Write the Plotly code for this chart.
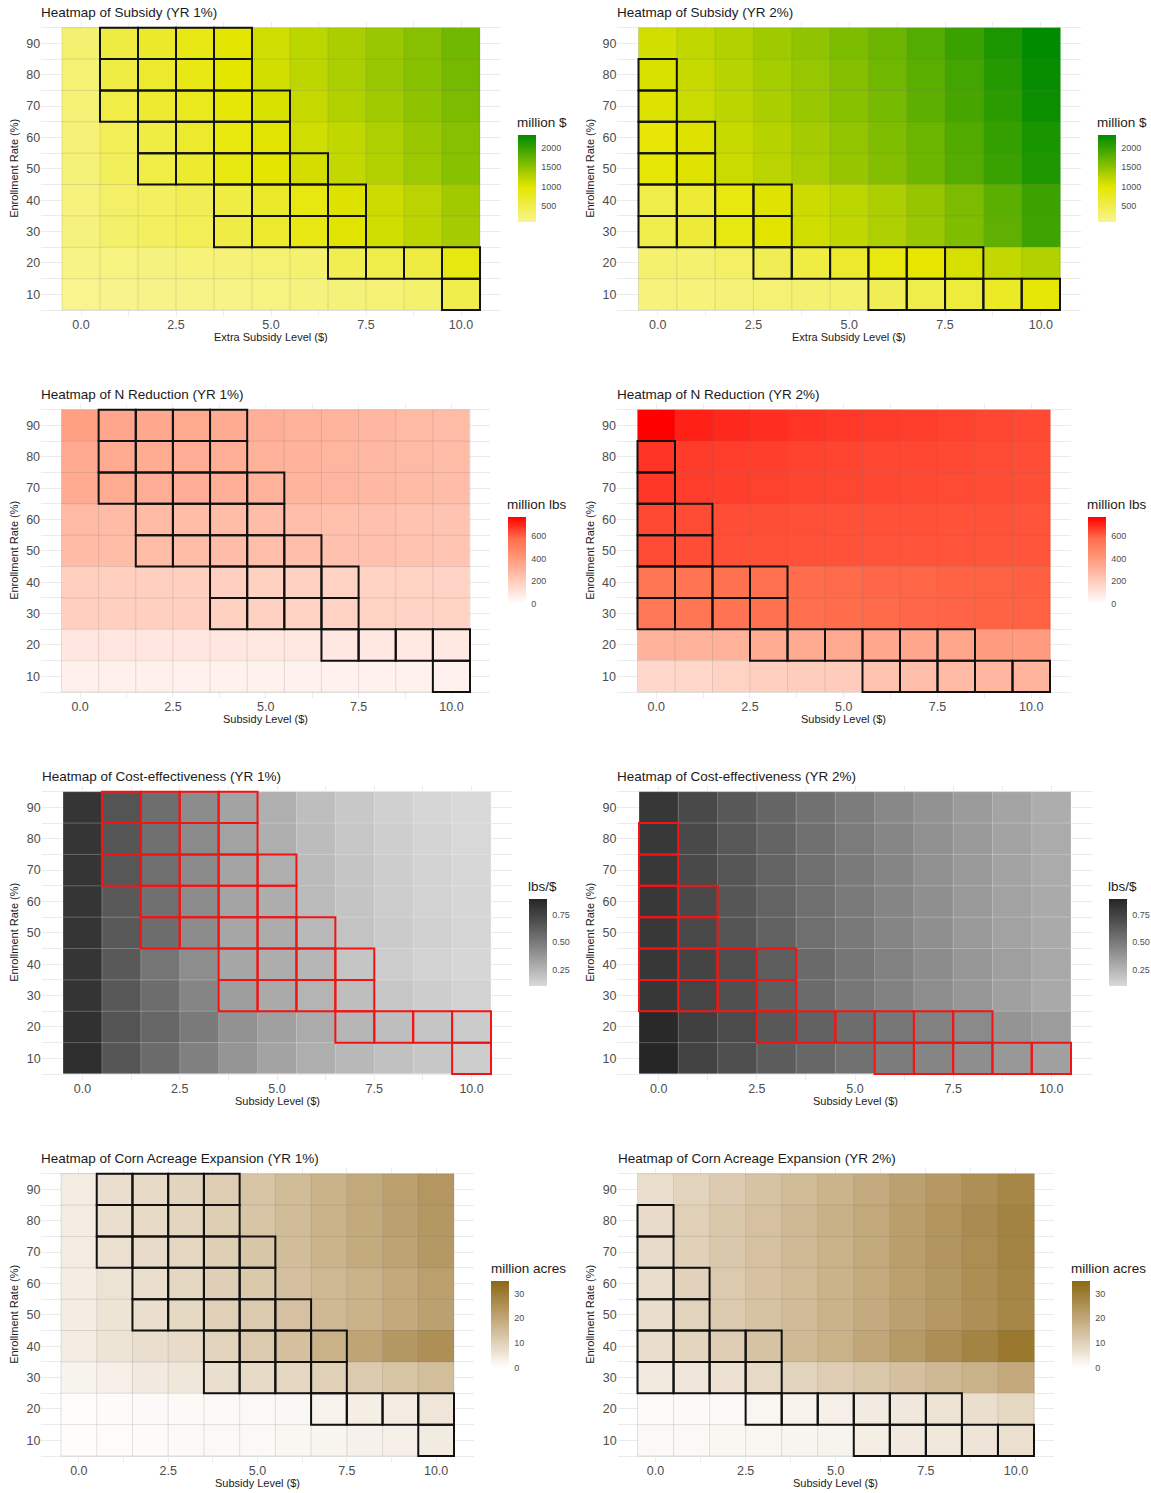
import plotly.graph_objects as go

FIG_W, FIG_H = 1151, 1493

# ---------------------------------------------------------------- data
SUBSIDY_LEVELS = [0, 1, 2, 3, 4, 5, 6, 7, 8, 9, 10]
ENROLLMENT = [10, 20, 30, 40, 50, 60, 70, 80, 90]
X_TICK_VALS = [0, 2.5, 5, 7.5, 10]
X_TICK_TEXT = ["0.0", "2.5", "5.0", "7.5", "10.0"]
Y_TICK_TEXT = ["10", "20", "30", "40", "50", "60", "70", "80", "90"]

# rows follow ENROLLMENT (10% first), columns follow SUBSIDY_LEVELS
subsidy_yr1 = [
    [86, 105, 120, 135, 150, 170, 190, 215, 245, 300, 500],
    [150, 170, 190, 210, 230, 260, 290, 470, 520, 580, 880],
    [190, 320, 370, 440, 550, 700, 860, 1020, 1120, 1240, 1370],
    [200, 330, 380, 450, 560, 720, 880, 1040, 1140, 1250, 1390],
    [220, 420, 540, 680, 880, 1000, 1100, 1200, 1300, 1420, 1540],
    [230, 440, 560, 700, 900, 1020, 1120, 1210, 1310, 1430, 1550],
    [240, 540, 670, 800, 940, 1060, 1180, 1290, 1390, 1500, 1610],
    [255, 560, 700, 850, 990, 1110, 1220, 1330, 1430, 1540, 1650],
    [270, 580, 720, 860, 1000, 1120, 1230, 1340, 1440, 1550, 1670],
]
subsidy_yr2 = [
    [200, 210, 230, 250, 270, 300, 450, 520, 620, 760, 950],
    [280, 290, 350, 450, 560, 700, 900, 980, 1080, 1200, 1300],
    [500, 640, 880, 1010, 1120, 1210, 1310, 1440, 1590, 1780, 1970],
    [520, 660, 900, 1030, 1140, 1230, 1330, 1460, 1610, 1800, 1990],
    [940, 1030, 1150, 1250, 1350, 1460, 1570, 1700, 1840, 2000, 2160],
    [960, 1040, 1170, 1270, 1370, 1480, 1590, 1720, 1860, 2030, 2190],
    [1040, 1150, 1240, 1340, 1430, 1540, 1650, 1790, 1930, 2090, 2270],
    [1060, 1170, 1260, 1360, 1450, 1560, 1680, 1810, 1950, 2120, 2300],
    [1110, 1210, 1300, 1400, 1490, 1600, 1710, 1850, 2000, 2170, 2336],
]
n_reduction_yr1 = [
    [60, 59, 58, 57, 56, 56, 55, 54, 53, 53, 52],
    [98, 97, 96, 95, 94, 93, 92, 91, 90, 89, 88],
    [190, 188, 187, 186, 184, 182, 180, 178, 176, 174, 172],
    [192, 190, 189, 188, 186, 184, 182, 180, 178, 176, 174],
    [270, 267, 265, 262, 260, 257, 254, 248, 245, 236, 232],
    [273, 270, 268, 265, 263, 260, 257, 250, 248, 238, 235],
    [330, 328, 325, 321, 315, 305, 297, 288, 280, 270, 260],
    [335, 332, 329, 325, 318, 308, 300, 290, 282, 272, 262],
    [375, 350, 345, 340, 332, 315, 305, 295, 285, 275, 265],
]
n_reduction_yr2 = [
    [155, 160, 175, 187, 199, 205, 242, 258, 269, 283, 297],
    [304, 304, 310, 327, 331, 335, 343, 350, 355, 390, 395],
    [540, 544, 556, 562, 572, 578, 583, 587, 592, 595, 598],
    [545, 548, 561, 566, 577, 582, 587, 590, 595, 598, 600],
    [636, 632, 628, 626, 624, 623, 622, 621, 620, 619, 618],
    [640, 636, 632, 630, 628, 627, 626, 625, 624, 623, 622],
    [670, 660, 656, 652, 648, 645, 642, 639, 636, 633, 630],
    [675, 664, 660, 656, 652, 648, 645, 642, 640, 636, 632],
    [765, 710, 696, 686, 675, 668, 662, 657, 651, 644, 639],
]
cost_eff_yr1 = [
    [0.85, 0.659, 0.564, 0.474, 0.385, 0.326, 0.279, 0.238, 0.204, 0.175, 0.150],
    [0.84, 0.668, 0.586, 0.496, 0.398, 0.338, 0.292, 0.246, 0.213, 0.183, 0.158],
    [0.825, 0.655, 0.555, 0.453, 0.347, 0.296, 0.254, 0.213, 0.179, 0.150, 0.129],
    [0.82, 0.645, 0.518, 0.419, 0.313, 0.283, 0.246, 0.183, 0.154, 0.129, 0.113],
    [0.82, 0.645, 0.555, 0.423, 0.313, 0.288, 0.233, 0.192, 0.158, 0.133, 0.117],
    [0.82, 0.645, 0.541, 0.423, 0.321, 0.283, 0.229, 0.188, 0.154, 0.129, 0.113],
    [0.82, 0.655, 0.545, 0.428, 0.321, 0.279, 0.225, 0.183, 0.150, 0.125, 0.108],
    [0.82, 0.659, 0.545, 0.428, 0.330, 0.275, 0.221, 0.179, 0.146, 0.121, 0.104],
    [0.82, 0.668, 0.550, 0.423, 0.326, 0.271, 0.213, 0.171, 0.138, 0.113, 0.100],
]
cost_eff_yr2 = [
    [0.895, 0.755, 0.691, 0.632, 0.582, 0.536, 0.491, 0.449, 0.411, 0.372, 0.338],
    [0.88, 0.770, 0.709, 0.650, 0.605, 0.555, 0.509, 0.466, 0.428, 0.389, 0.355],
    [0.81, 0.740, 0.686, 0.623, 0.564, 0.509, 0.462, 0.419, 0.377, 0.338, 0.300],
    [0.81, 0.745, 0.695, 0.627, 0.568, 0.514, 0.466, 0.423, 0.381, 0.343, 0.304],
    [0.806, 0.724, 0.663, 0.604, 0.549, 0.500, 0.453, 0.410, 0.368, 0.330, 0.296],
    [0.805, 0.722, 0.661, 0.602, 0.547, 0.498, 0.451, 0.408, 0.366, 0.328, 0.294],
    [0.805, 0.720, 0.659, 0.600, 0.545, 0.496, 0.449, 0.406, 0.364, 0.326, 0.292],
    [0.804, 0.719, 0.657, 0.598, 0.543, 0.494, 0.447, 0.404, 0.362, 0.324, 0.290],
    [0.81, 0.720, 0.650, 0.591, 0.536, 0.487, 0.440, 0.398, 0.360, 0.321, 0.283],
]
corn_yr1 = [
    [0.5, 0.7, 0.9, 1.1, 1.3, 1.5, 1.8, 2.5, 3.0, 3.5, 4.3],
    [0.6, 0.8, 1.0, 1.1, 1.3, 1.4, 1.6, 2.8, 3.7, 4.2, 5.5],
    [2.6, 3.5, 4.5, 5.2, 7.0, 8.0, 9.0, 10.3, 11.8, 13.2, 14.5],
    [4.2, 6.0, 7.0, 7.8, 9.6, 11.7, 14.0, 17.5, 20.5, 23.5, 25.5],
    [3.9, 5.9, 7.0, 8.4, 10.3, 11.8, 13.8, 15.6, 17.3, 19.3, 21.3],
    [4.0, 6.1, 7.2, 8.6, 10.5, 12.0, 14.0, 15.8, 17.5, 19.5, 21.5],
    [4.1, 6.8, 7.8, 9.0, 10.7, 12.7, 14.8, 16.9, 19.0, 21.0, 23.2],
    [4.1, 6.9, 8.0, 9.2, 10.9, 12.9, 15.0, 17.1, 19.2, 21.3, 23.5],
    [4.2, 7.0, 8.1, 9.4, 11.0, 13.1, 15.2, 17.3, 19.4, 21.5, 23.8],
]
corn_yr2 = [
    [1.3, 1.5, 1.7, 2.0, 2.3, 2.6, 3.8, 4.5, 5.1, 5.8, 6.8],
    [0.9, 1.1, 1.3, 2.0, 2.7, 3.4, 4.3, 5.0, 6.0, 7.0, 8.4],
    [4.8, 5.5, 6.5, 8.3, 9.7, 11.0, 12.4, 14.0, 15.6, 17.4, 19.3],
    [7.5, 9.3, 11.0, 13.4, 15.5, 17.5, 20.0, 23.0, 25.7, 28.3, 31.0],
    [7.4, 9.7, 11.7, 13.4, 15.1, 17.1, 18.9, 21.3, 23.4, 25.5, 27.6],
    [7.5, 9.8, 11.8, 13.5, 15.2, 17.2, 19.0, 21.4, 23.5, 25.6, 27.8],
    [7.8, 10.2, 12.1, 13.8, 15.5, 17.5, 19.4, 21.8, 23.9, 26.0, 28.3],
    [7.8, 10.3, 12.2, 13.9, 15.6, 17.6, 19.5, 21.9, 24.0, 26.2, 28.5],
    [7.2, 9.7, 11.5, 13.4, 15.2, 17.0, 18.9, 21.3, 23.4, 25.5, 27.5],
]

# highlighted scenarios: enrollment rate -> subsidy levels
highlight_yr1 = {90: [1, 2, 3, 4], 80: [1, 2, 3, 4], 70: [1, 2, 3, 4, 5],
                 60: [2, 3, 4, 5], 50: [2, 3, 4, 5, 6], 40: [4, 5, 6, 7],
                 30: [4, 5, 6, 7], 20: [7, 8, 9, 10], 10: [10]}
highlight_yr2 = {80: [0], 70: [0], 60: [0, 1], 50: [0, 1], 40: [0, 1, 2, 3],
                 30: [0, 1, 2, 3], 20: [3, 4, 5, 6, 7, 8], 10: [6, 7, 8, 9, 10]}

# ---------------------------------------------------------------- scales
SUBSIDY_SCALE = [[0, "#F8F48E"], [0.4, "#E6E600"], [1, "#008B00"]]
N_SCALE = [[0, "#FFFFFF"], [0.25, "#FFCFBF"], [0.5, "#FF9E81"], [0.75, "#FF6F4D"], [1, "#FF0000"]]
CE_SCALE = [[0, "#D9D9D9"], [0.25, "#A9A9A9"], [0.5, "#7A7A7A"], [0.75, "#4E4E4E"], [1, "#262626"]]
CORN_SCALE = [[0, "#FFFFFF"], [0.25, "#E5D7C2"], [0.5, "#C9B188"], [0.75, "#AB8C50"], [1, "#8B6914"]]

metrics = [
    dict(name="Subsidy", xtitle="Extra Subsidy Level ($)", unit="million $",
         data=(subsidy_yr1, subsidy_yr2), scale=SUBSIDY_SCALE, limits=(86, 2336),
         cb_vals=[500, 1000, 1500, 2000], cb_text=["500", "1000", "1500", "2000"],
         outline="#111111", grid="rgba(110,110,110,0.28)"),
    dict(name="N Reduction", xtitle="Subsidy Level ($)", unit="million lbs",
         data=(n_reduction_yr1, n_reduction_yr2), scale=N_SCALE, limits=(0, 765),
         cb_vals=[0, 200, 400, 600], cb_text=["0", "200", "400", "600"],
         outline="#111111", grid="rgba(110,110,110,0.28)"),
    dict(name="Cost-effectiveness", xtitle="Subsidy Level ($)", unit="lbs/$",
         data=(cost_eff_yr1, cost_eff_yr2), scale=CE_SCALE, limits=(0.10, 0.895),
         cb_vals=[0.25, 0.5, 0.75], cb_text=["0.25", "0.50", "0.75"],
         outline="#F21414", grid="rgba(255,255,255,0.35)"),
    dict(name="Corn Acreage Expansion", xtitle="Subsidy Level ($)", unit="million acres",
         data=(corn_yr1, corn_yr2), scale=CORN_SCALE, limits=(0, 35),
         cb_vals=[0, 10, 20, 30], cb_text=["0", "10", "20", "30"],
         outline="#111111", grid="rgba(110,110,110,0.28)"),
]
yr_labels = ["YR 1%", "YR 2%"]
highlights = [highlight_yr1, highlight_yr2]

# ---------------------------------------------------------------- layout geometry (pixels)
TILE_X = {
    (0, 0): (62, 480), (0, 1): (638.5, 1060),
    (1, 0): (61.5, 470), (1, 1): (637.5, 1050),
    (2, 0): (63, 491), (2, 1): (639, 1071),
    (3, 0): (61, 454), (3, 1): (637.5, 1034),
}
ROW_STEP = 382
TILE_TOP, TILE_BOTTOM = 27.7, 310
X_EXPAND = 0.55
Y_EXPAND = 1.8
CB_GAP = 37.5
CB_LEN, CB_THICK = 87, 18
FONT = "Liberation Sans, Arial, sans-serif"
TEXT_DARK = "#1A1A1A"
TEXT_GREY = "#4D4D4D"
GRID = "#EBEBEB"

fig = go.Figure()
annotations = []
shapes = []
layout_axes = {}

panel = 0
for r, m in enumerate(metrics):
    for c in range(2):
        panel += 1
        sfx = "" if panel == 1 else str(panel)
        xref, yref = "x" + sfx, "y" + sfx
        left, right = TILE_X[(r, c)]
        top = TILE_TOP + r * ROW_STEP
        bottom = TILE_BOTTOM + r * ROW_STEP
        ux = (right - left) / len(SUBSIDY_LEVELS)
        uy = (bottom - top) / 90.0
        p_left = left - X_EXPAND * ux
        p_right = right + X_EXPAND * ux
        p_top = top - Y_EXPAND * uy
        p_bottom = bottom + Y_EXPAND * uy

        layout_axes["xaxis" + sfx] = dict(
            domain=[p_left / FIG_W, p_right / FIG_W], anchor=yref,
            range=[-0.5 - X_EXPAND, 10.5 + X_EXPAND],
            tickvals=X_TICK_VALS, ticktext=X_TICK_TEXT, ticks="",
            tickfont=dict(size=12.5, color=TEXT_GREY, family=FONT),
            showgrid=True, gridcolor=GRID, gridwidth=1, zeroline=False, showline=False,
            minor=dict(tickvals=[1.25, 3.75, 6.25, 8.75], showgrid=True,
                       gridcolor=GRID, gridwidth=0.5),
            fixedrange=True,
        )
        layout_axes["yaxis" + sfx] = dict(
            domain=[1 - p_bottom / FIG_H, 1 - p_top / FIG_H], anchor=xref,
            range=[5 - Y_EXPAND, 95 + Y_EXPAND],
            tickvals=ENROLLMENT, ticktext=Y_TICK_TEXT, ticks="",
            tickfont=dict(size=12.5, color=TEXT_GREY, family=FONT),
            showgrid=True, gridcolor=GRID, gridwidth=1, zeroline=False, showline=False,
            minor=dict(tickvals=[5, 15, 25, 35, 45, 55, 65, 75, 85, 95], showgrid=True,
                       gridcolor=GRID, gridwidth=0.5),
            fixedrange=True,
        )

        cb_left = right + CB_GAP
        cb_top = 135 + r * ROW_STEP
        zmin, zmax = m["limits"]
        fig.add_trace(go.Heatmap(
            x=SUBSIDY_LEVELS, y=ENROLLMENT, z=m["data"][c],
            colorscale=m["scale"], zmin=zmin, zmax=zmax,
            xaxis=xref, yaxis=yref,
            colorbar=dict(
                x=cb_left / FIG_W, xanchor="left", xpad=0,
                y=1 - cb_top / FIG_H, yanchor="top", ypad=0,
                len=CB_LEN, lenmode="pixels", thickness=CB_THICK, thicknessmode="pixels",
                outlinewidth=0, tickvals=m["cb_vals"], ticktext=m["cb_text"],
                ticks="outside", ticklen=4, tickcolor="rgba(0,0,0,0)",
                tickfont=dict(size=9, color=TEXT_GREY, family=FONT),
            ),
            hovertemplate="Subsidy %{x}<br>Enrollment %{y}%<br>%{z}<extra></extra>",
        ))

        # short white marks on both edges of the colour bar at each break
        for v in m["cb_vals"]:
            ty = cb_top + (zmax - v) / (zmax - zmin) * CB_LEN
            for x0, x1 in ((cb_left, cb_left + 3.6), (cb_left + CB_THICK - 3.6, cb_left + CB_THICK)):
                shapes.append(dict(type="line", xref="paper", yref="paper",
                                   x0=x0 / FIG_W, x1=x1 / FIG_W,
                                   y0=1 - ty / FIG_H, y1=1 - ty / FIG_H,
                                   line=dict(color="rgba(255,255,255,0.9)", width=1),
                                   layer="above"))

        # thin borders between tiles
        for xv in [v - 0.5 for v in SUBSIDY_LEVELS] + [SUBSIDY_LEVELS[-1] + 0.5]:
            shapes.append(dict(type="line", xref=xref, yref=yref, x0=xv, x1=xv,
                               y0=ENROLLMENT[0] - 5, y1=ENROLLMENT[-1] + 5,
                               line=dict(color=m["grid"], width=0.7), layer="above"))
        for yv in [v - 5 for v in ENROLLMENT] + [ENROLLMENT[-1] + 5]:
            shapes.append(dict(type="line", xref=xref, yref=yref, y0=yv, y1=yv,
                               x0=SUBSIDY_LEVELS[0] - 0.5, x1=SUBSIDY_LEVELS[-1] + 0.5,
                               line=dict(color=m["grid"], width=0.7), layer="above"))
        # outlined scenarios
        for enr, levels in highlights[c].items():
            for lv in levels:
                shapes.append(dict(type="rect", xref=xref, yref=yref,
                                   x0=lv - 0.5, x1=lv + 0.5, y0=enr - 5, y1=enr + 5,
                                   line=dict(color=m["outline"], width=2),
                                   fillcolor="rgba(0,0,0,0)", layer="above"))

        # panel title
        annotations.append(dict(
            text=f"Heatmap of {m['name']} ({yr_labels[c]})", xref="paper", yref="paper",
            x=(p_left - 2) / FIG_W, y=1 - (12.3 + r * ROW_STEP) / FIG_H,
            xanchor="left", yanchor="middle", showarrow=False,
            font=dict(size=13.5, color=TEXT_DARK, family=FONT)))
        # axis titles
        annotations.append(dict(
            text=m["xtitle"], xref="paper", yref="paper",
            x=(p_left + p_right) / 2 / FIG_W, y=1 - (336.5 + r * ROW_STEP) / FIG_H,
            xanchor="center", yanchor="middle", showarrow=False,
            font=dict(size=11, color=TEXT_DARK, family=FONT)))
        annotations.append(dict(
            text="Enrollment Rate (%)", xref="paper", yref="paper",
            x=(14 + 576 * c) / FIG_W, y=1 - (top + bottom) / 2 / FIG_H,
            xanchor="center", yanchor="middle", textangle=-90, showarrow=False,
            font=dict(size=11, color=TEXT_DARK, family=FONT)))
        # legend title
        annotations.append(dict(
            text=m["unit"], xref="paper", yref="paper",
            x=(cb_left - 2.5) / FIG_W, y=1 - (122.5 + r * ROW_STEP) / FIG_H,
            xanchor="left", yanchor="middle", showarrow=False,
            font=dict(size=13.5, color=TEXT_DARK, family=FONT)))

fig.update_layout(
    width=FIG_W, height=FIG_H, autosize=False,
    margin=dict(l=0, r=0, t=0, b=0),
    paper_bgcolor="white", plot_bgcolor="white",
    font=dict(family=FONT, color=TEXT_DARK),
    showlegend=False,
    annotations=annotations, shapes=shapes,
    **layout_axes,
)

fig.write_html("out.html")
